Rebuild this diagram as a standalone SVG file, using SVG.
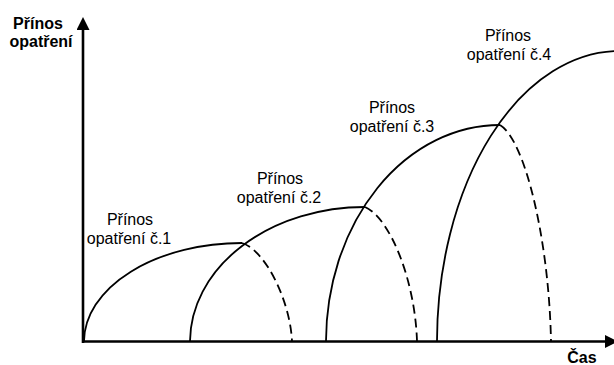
<svg xmlns="http://www.w3.org/2000/svg" width="614" height="365" viewBox="0 0 614 365">
  <style>
    .axis { stroke: #000; stroke-width: 2.6; fill: none; }
    .curve { stroke: #000; stroke-width: 1.8; fill: none; }
    .fade { stroke: #000; stroke-width: 1.8; fill: none; stroke-dasharray: 9 5; }
    .lbl { font-family: "Liberation Sans", Arial, sans-serif; font-size: 16px; fill: #000; text-anchor: middle; }
    .ttl { font-family: "Liberation Sans", Arial, sans-serif; font-size: 16px; font-weight: bold; fill: #000; text-anchor: middle; }
  </style>
  <defs>
    <marker id="head" viewBox="0 0 13 13" refX="0" refY="6.5" markerWidth="13" markerHeight="13" markerUnits="userSpaceOnUse" orient="auto">
      <path d="M0,0 L13,6.5 L0,13 Z" fill="#000"/>
    </marker>
  </defs>
  <rect width="614" height="365" fill="#fff"/>

  <g id="connectors">
    <!-- axes -->
    <line class="axis" x1="83" y1="343" x2="83" y2="30" marker-end="url(#head)"/>
    <line class="axis" x1="82" y1="341.5" x2="605" y2="341.5" marker-end="url(#head)"/>

    <!-- benefit curves: solid rise, dashed decline -->
    <path class="curve" d="M84,341 A158,99 0 0 1 242,243"/>
    <path class="fade" d="M242,243 C265,250 290,300 292,341"/>

    <path class="curve" d="M190,341 A175,135 0 0 1 365,207"/>
    <path class="fade" d="M365,207 C390,218 415,280 417,341"/>

    <path class="curve" d="M326,341 A174,217 0 0 1 500,125"/>
    <path class="fade" d="M500,125 C525,140 549,240 551,341"/>

    <path class="curve" d="M437,341 A183,291 0 0 1 620,51"/>
  </g>

  <g id="axis-y-title">
    <text class="ttl" x="38" y="29">Přínos</text>
    <text class="ttl" x="41" y="47">opatření</text>
  </g>
  <g id="axis-x-title">
    <text class="ttl" x="582" y="363">Čas</text>
  </g>

  <g id="measure-1">
    <text class="lbl" x="130" y="225">Přínos</text>
    <text class="lbl" x="129" y="244">opatření č.1</text>
  </g>
  <g id="measure-2">
    <text class="lbl" x="280" y="184">Přínos</text>
    <text class="lbl" x="279" y="203">opatření č.2</text>
  </g>
  <g id="measure-3">
    <text class="lbl" x="392" y="113">Přínos</text>
    <text class="lbl" x="392" y="132">opatření č.3</text>
  </g>
  <g id="measure-4">
    <text class="lbl" x="508" y="41">Přínos</text>
    <text class="lbl" x="509" y="60">opatření č.4</text>
  </g>
</svg>
